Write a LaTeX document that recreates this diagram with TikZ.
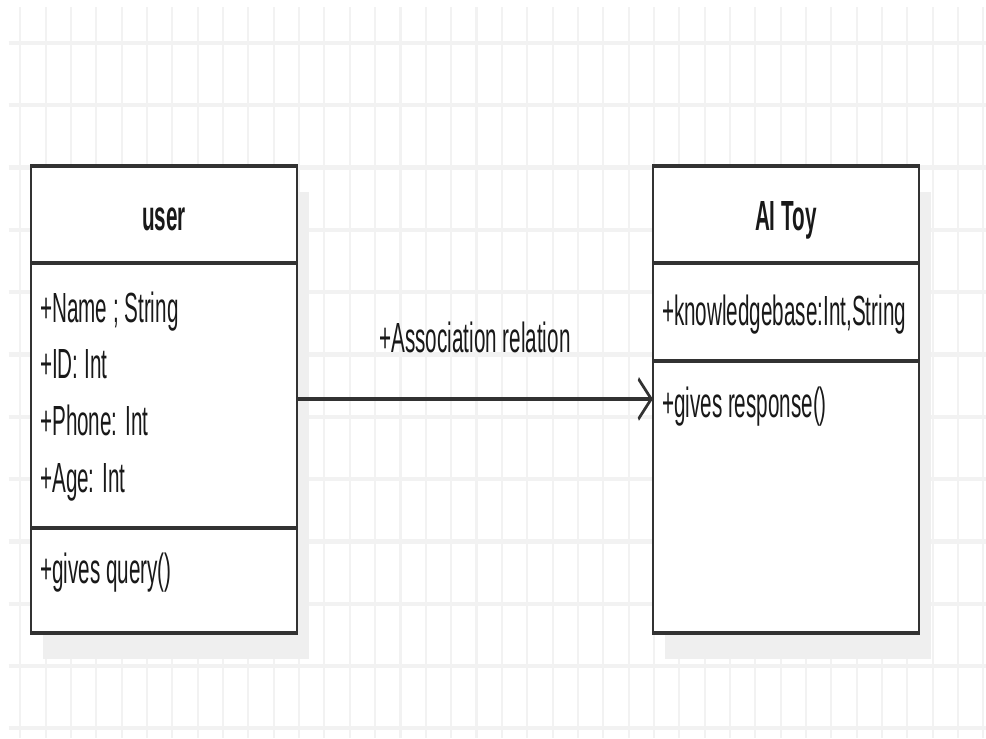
\documentclass[tikz,border=0pt]{standalone}
\usepackage{fontspec}
\setmainfont{Liberation Sans}
\usetikzlibrary{arrows.meta,positioning,shadows}

\definecolor{gridline}{RGB}{242,242,242}
\definecolor{shade}{RGB}{239,239,239}
\definecolor{umlline}{RGB}{50,50,50}

\tikzset{
  compartment/.style={draw=umlline, fill=white, line width=2.3pt, inner sep=0pt, outer sep=0pt,
    minimum width=10.857cm,
    drop shadow={shadow xshift=0.49cm, shadow yshift=-0.52cm, fill=shade, opacity=1}},
  member/.style={inner sep=0pt, anchor=base west, text=black!90, font=\fontsize{24}{28}\selectfont},
  classtitle/.style={member, anchor=base, font=\fontsize{24}{28}\selectfont\bfseries},
  assoc/.style={draw=umlline, line width=2.3pt, -{Straight Barb[length=15pt,width=23pt]}},
  gridrule/.style={draw=gridline, line width=2.4pt}
}

\begin{document}
\begin{tikzpicture}[x=0.02cm,y=-0.02cm]
\useasboundingbox (0,0) rectangle (986,738);
\fill[white] (0,0) rectangle (986,738);
\begin{scope}[transform canvas={xscale=0.49}, x=0.0408163cm, y=-0.02cm]
\foreach \gx in {0,...,38}
  \draw[gridrule] (20.3+25.35*\gx,7) -- (20.3+25.35*\gx,738);
\foreach \gy in {0,...,11}
  \draw[gridrule] (9,43+62.3*\gy) -- (986,43+62.3*\gy);

% user class
\node[compartment, anchor=north, minimum height=1.94cm] (userhead) at (164,166) {};
\node[compartment, minimum height=5.30cm, below=0pt of userhead] (userattr) {};
\node[compartment, minimum height=2.10cm, below=0pt of userattr] (usermeth) {};
\node[classtitle] (usertitle) at (164,230) {user};
\foreach \m [count=\i from 0] in {+Name ; String, +ID: Int, +Phone: Int, +Age: Int}
  \node[member] (useritem\i) at (40,322+56.7*\i) {\m};
\node[member] (usermethod) at (40,583) {+gives query()};

% AI Toy class
\node[compartment, anchor=north, minimum height=1.94cm] (aihead) at (786,166) {};
\node[compartment, minimum height=1.96cm, below=0pt of aihead] (aiattr) {};
\node[compartment, minimum height=5.44cm, below=0pt of aiattr] (aimeth) {};
\node[classtitle] (aititle) at (786,230) {AI Toy};
\node[member] (aiitem) at (662,325) {+knowledgebase:Int,String};
\node[member] (aimethod) at (662,417) {+gives response()};

\coordinate (assocstart) at ([yshift=-0.07cm]userattr.east);
\draw[assoc] (assocstart) -- (assocstart -| aimeth.west)
  node[member, midway, anchor=base, yshift=0.92cm] (assoclabel) {+Association relation};
\end{scope}
\end{tikzpicture}
\end{document}
